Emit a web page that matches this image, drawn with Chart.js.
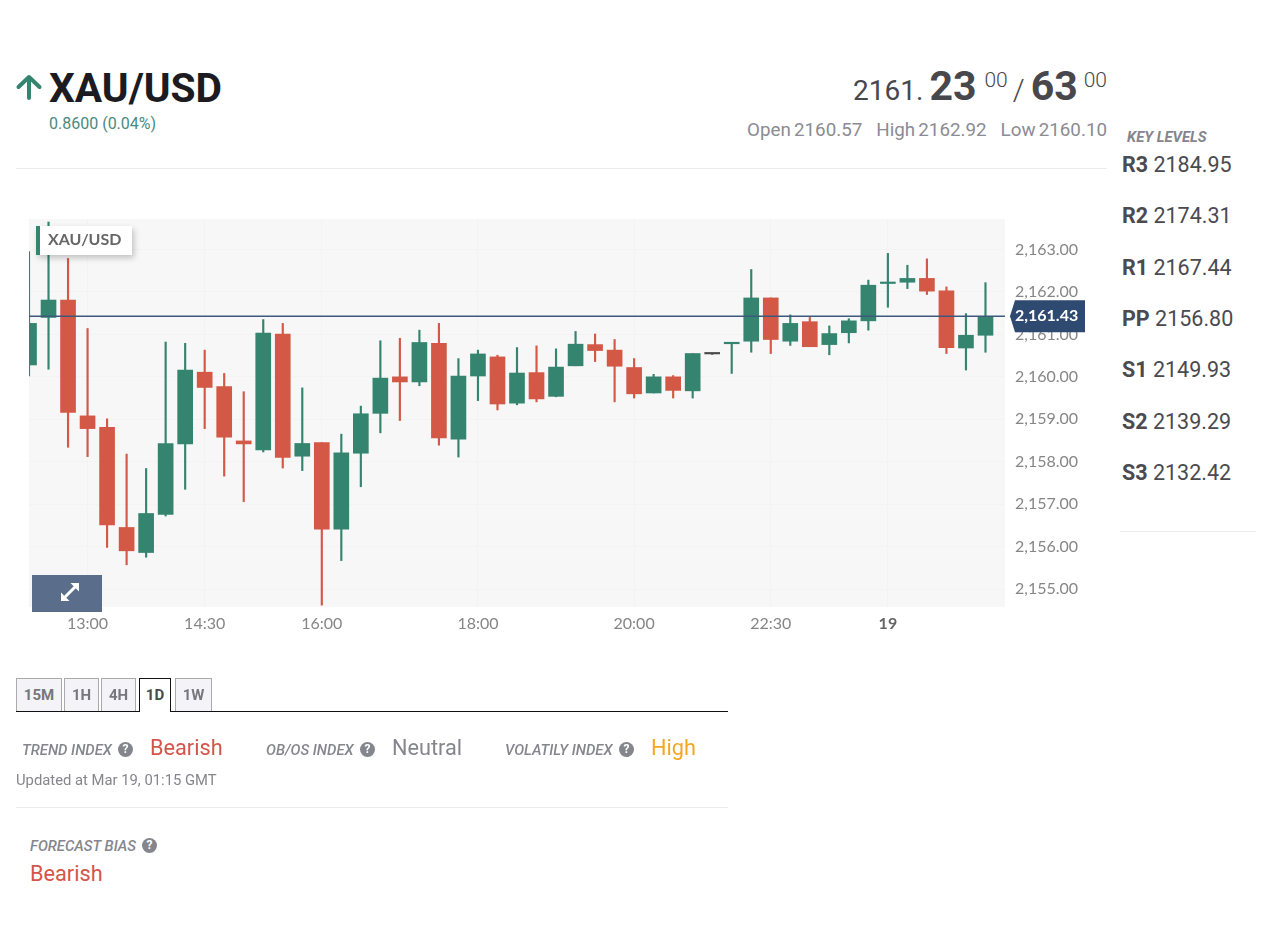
<!DOCTYPE html>
<html>
<head>
<meta charset="utf-8">
<title>XAU/USD</title>
<script src="https://cdn.jsdelivr.net/npm/chart.js@4"></script>
<style>
html, body { margin: 0; padding: 0; background: #fff; }
body { width: 1264px; height: 931px; position: relative; overflow: hidden; font-family: Roboto, sans-serif; }
.t { position: absolute; white-space: nowrap; line-height: 1; }
.hr { position: absolute; height: 1px; background: #ececec; }
.idx { font-style: italic; font-weight: 500; font-size: 14.8px; color: #85858d; }
.big { font-size: 21.7px; }
.lvl { font-size: 21.5px; color: #4a4a4f; left: 1122px; }
.lvl b { font-weight: 700; }
.help { position: absolute; width: 15px; height: 15px; border-radius: 50%; background: #85858d; color: #fff; font: bold 12px/15px Roboto, sans-serif; text-align: center; }
.tab { position: absolute; top: 678px; height: 32px; box-sizing: content-box; border: 1px solid #aaa; border-bottom: 0; background: #f3f3f8; color: #77777d; font: bold 15px/33px Roboto, sans-serif; text-align: center; }
.tab.on { background: #fff; border: 1.5px solid #111; border-bottom: 0; color: #4a4a4f; height: 33px; z-index: 2; }
#wrap { position: absolute; left: 29px; top: 207px; width: 1071px; height: 432px; }
#legend { position: absolute; left: 36px; top: 226px; width: 92px; height: 29px; background: #fff; border-left: 4px solid #34846f; box-shadow: 2px 3px 6px rgba(0,0,0,.22); font: bold 16px/26px Lato, sans-serif; color: #666; text-indent: 8px; }
#expand { position: absolute; left: 32px; top: 575px; width: 70px; height: 37px; background: #5a6e8c; }
</style>
</head>
<body>

<svg style="position:absolute;left:14px;top:72px" width="30" height="30" viewBox="0 0 30 30"><path d="M15 26V5M4.500 15 15 5l10.500 10" fill="none" stroke="#34846f" stroke-width="4" stroke-linecap="round" stroke-linejoin="round"/></svg>
<div class="t" style="left:49px;top:68px;font-size:40.7px;font-weight:700;color:#1b1b21">XAU/USD</div>
<div class="t" style="left:49px;top:116px;font-size:16px;color:#4a8a80">0.8600 (0.04%)</div>

<div class="t" style="right:157px;top:63px;color:#47474c;font-size:28px;display:flex;align-items:baseline;height:46px">
  <span style="line-height:46px">2161.</span><b style="font-size:41px;margin-left:6px;line-height:46px">23</b><span style="font-size:21px;margin-left:8px;position:relative;top:-13px;font-weight:300">00</span><span style="font-size:30px;margin:0 6px 0 5px;font-weight:300">/</span><b style="font-size:41px;line-height:46px">63</b><span style="font-size:21px;margin-left:6px;position:relative;top:-13px;font-weight:300">00</span>
</div>
<div class="t" style="right:157px;top:121px;font-size:18.8px;color:#8b8b93;word-spacing:-1.5px">Open 2160.57<span style="margin-left:14px">High 2162.92</span><span style="margin-left:14px">Low 2160.10</span></div>
<div class="hr" style="left:16px;top:168px;width:1091px"></div>

<div class="t idx" style="left:1127px;top:130px;font-weight:700">KEY LEVELS</div>
<div class="t lvl" style="top:154px"><b>R3</b> 2184.95</div>
<div class="t lvl" style="top:205px"><b>R2</b> 2174.31</div>
<div class="t lvl" style="top:257px"><b>R1</b> 2167.44</div>
<div class="t lvl" style="top:308px"><b>PP</b> 2156.80</div>
<div class="t lvl" style="top:359px"><b>S1</b> 2149.93</div>
<div class="t lvl" style="top:411px"><b>S2</b> 2139.29</div>
<div class="t lvl" style="top:462px"><b>S3</b> 2132.42</div>
<div class="hr" style="left:1120px;top:531px;width:136px"></div>

<div id="wrap"><canvas id="xauChart" width="1071" height="432"></canvas></div>
<div id="legend">XAU/USD</div>
<div id="expand">
  <svg style="position:absolute;left:28px;top:7px" width="20" height="20" viewBox="0 0 20 20"><path d="M5 15 15 5" stroke="#fff" stroke-width="3"/><path d="M10.500 1H19V9.500ZM1 10.500V19H9.500Z" fill="#fff"/></svg>
</div>

<div class="tab" style="left:16px;width:44px">15M</div>
<div class="tab" style="left:64px;width:33px">1H</div>
<div class="tab" style="left:101px;width:33px">4H</div>
<div class="tab on" style="left:139px;width:30px">1D</div>
<div class="tab" style="left:175px;width:35px">1W</div>
<div style="position:absolute;left:16px;top:711px;width:712px;height:1px;background:#111"></div>

<div class="t idx" style="left:22px;top:743px">TREND INDEX</div>
<div class="help" style="left:118px;top:742px">?</div>
<div class="t big" style="left:150px;top:737px;color:#d5544a">Bearish</div>
<div class="t idx" style="left:266px;top:743px">OB/OS INDEX</div>
<div class="help" style="left:360px;top:742px">?</div>
<div class="t big" style="left:392px;top:737px;color:#85858d">Neutral</div>
<div class="t idx" style="left:505px;top:743px">VOLATILY INDEX</div>
<div class="help" style="left:619px;top:742px">?</div>
<div class="t big" style="left:651px;top:737px;color:#f5a623">High</div>
<div class="t" style="left:16px;top:773px;font-size:14.8px;color:#85858d">Updated at Mar 19, 01:15 GMT</div>
<div class="hr" style="left:16px;top:807px;width:712px"></div>

<div class="t idx" style="left:30px;top:839px">FORECAST BIAS</div>
<div class="help" style="left:142px;top:838px">?</div>
<div class="t big" style="left:30px;top:863px;color:#d5544a">Bearish</div>

<script>
// 15 minute candles
const categories = ['12:15','12:30','12:45','13:00','13:15','13:30','13:45','14:00','14:15','14:30',
  '14:45','15:00','15:15','15:30','15:45','16:00','16:15','16:30','16:45','17:00',
  '17:15','17:30','17:45','18:00','18:15','18:30','18:45','19:00','19:15','19:30',
  '19:45','20:00','20:15','20:30','20:45','21:00','22:00','22:15','22:30','22:45',
  '23:00','23:15','23:30','23:45','19','00:15','00:30','00:45','01:00','01:15',''];

const opens = [2160.28,2161.40,2161.81,2159.08,2158.81,2156.45,2155.86,2156.76,2158.42,2160.11,
  2159.77,2158.49,2158.28,2161.01,2158.13,2158.45,2156.41,2158.20,2159.14,2160.00,
  2159.88,2160.79,2158.53,2160.02,2160.47,2159.38,2160.10,2159.54,2160.26,2160.76,
  2160.63,2160.22,2159.62,2160.00,2159.67,2160.54,2160.78,2160.84,2161.86,2160.84,
  2161.30,2160.76,2161.04,2161.32,2162.20,2162.23,2162.32,2162.03,2160.68,2160.98];
const highs = [2162.95,2163.65,2162.79,2161.14,2159.01,2158.18,2157.84,2160.82,2160.79,2160.63,
  2160.08,2159.65,2161.35,2161.26,2159.74,2158.45,2158.65,2159.31,2160.85,2160.91,
  2161.10,2161.26,2160.43,2160.63,2160.51,2160.69,2160.73,2160.66,2161.07,2161.01,
  2160.88,2160.43,2160.06,2160.03,2160.55,2160.55,2160.80,2162.53,2161.86,2161.46,
  2161.40,2161.20,2161.37,2162.28,2162.91,2162.63,2162.78,2162.12,2161.49,2162.22];
const lows = [2160.02,2160.18,2158.34,2158.12,2155.98,2155.57,2155.75,2156.72,2157.35,2158.78,
  2157.66,2157.06,2158.23,2157.85,2157.79,2154.62,2155.67,2157.41,2158.68,2158.97,
  2159.79,2158.39,2158.11,2159.44,2159.22,2159.34,2159.41,2159.53,2160.26,2160.36,
  2159.41,2159.50,2159.62,2159.50,2159.50,2160.53,2160.08,2160.58,2160.55,2160.74,
  2160.71,2160.52,2160.80,2161.10,2161.64,2162.08,2161.94,2160.55,2160.16,2160.58];
const closes = [2161.26,2161.81,2159.16,2158.78,2156.51,2155.90,2156.78,2158.43,2160.16,2159.75,
  2158.58,2158.42,2161.03,2158.10,2158.43,2156.41,2158.21,2159.13,2159.97,2159.88,
  2160.81,2158.56,2160.02,2160.54,2159.36,2160.09,2159.48,2160.23,2160.77,2160.62,
  2160.25,2159.60,2160.00,2159.68,2160.55,2160.54,2160.80,2161.86,2160.88,2161.26,
  2160.71,2161.02,2161.32,2162.16,2162.23,2162.32,2162.02,2160.69,2160.98,2161.41];

const lastPrice = 2161.43;
const timeTicks = ['13:00','14:30','16:00','18:00','20:00','22:30','19'];

const upColor = '#34846f';
const downColor = '#d35845';
const flatColor = '#4a4a4a';
const lineColor = '#3f587e';
const tagColor = '#2f4a70';
const tickColor = '#868686';

function fmt(v) {
  return v.toLocaleString('en-US', { minimumFractionDigits: 2, maximumFractionDigits: 2 });
}

const candleColors = closes.map((c, i) => c > opens[i] ? upColor : c < opens[i] ? downColor : flatColor);

// grey plot background and the price tag on the right
const chartExtras = {
  id: 'chartExtras',
  beforeDraw(chart) {
    const a = chart.chartArea;
    chart.ctx.save();
    chart.ctx.fillStyle = '#f7f7f7';
    chart.ctx.fillRect(a.left, a.top, a.right - a.left, a.bottom - a.top);
    chart.ctx.restore();
  },
  afterDraw(chart) {
    const ctx = chart.ctx;
    const a = chart.chartArea;
    const y = chart.scales.y.getPixelForValue(lastPrice);
    ctx.save();
    ctx.fillStyle = tagColor;
    ctx.beginPath();
    ctx.moveTo(a.right + 5, y);
    ctx.lineTo(a.right + 10, y - 16);
    ctx.lineTo(a.right + 80, y - 16);
    ctx.lineTo(a.right + 80, y + 16);
    ctx.lineTo(a.right + 10, y + 16);
    ctx.closePath();
    ctx.fill();
    ctx.fillStyle = '#fff';
    ctx.font = 'bold 16px Lato, sans-serif';
    ctx.textBaseline = 'middle';
    ctx.fillText(fmt(lastPrice), a.right + 10, y);
    ctx.restore();
  }
};

new Chart(document.getElementById('xauChart'), {
  type: 'bar',
  data: {
    labels: categories,
    datasets: [
      {
        type: 'line',
        data: categories.map(() => lastPrice),
        borderColor: lineColor,
        borderWidth: 1.5,
        pointRadius: 0,
        order: 1
      },
      {
        data: opens.map((o, i) => [o, closes[i]]),
        backgroundColor: candleColors,
        barThickness: 15,
        minBarLength: 1.5,
        grouped: false,
        order: 2
      },
      {
        data: lows.map((l, i) => [l, highs[i]]),
        backgroundColor: candleColors,
        barThickness: 1.5,
        grouped: false,
        order: 3
      }
    ]
  },
  options: {
    responsive: false,
    animation: false,
    layout: { padding: { top: 12 } },
    plugins: { legend: { display: false }, tooltip: { enabled: false } },
    scales: {
      x: {
        offset: false,
        border: { display: false },
        grid: { offset: false, color: '#f3f3f3', drawTicks: false },
        afterBuildTicks(scale) {
          scale.ticks = scale.ticks.filter(t => timeTicks.includes(categories[t.value]));
        },
        afterFit(scale) { scale.height = 32; },
        ticks: {
          autoSkip: false,
          maxRotation: 0,
          padding: 7,
          color: ctx => ctx.tick.label === '19' ? '#666' : tickColor,
          font: ctx => ({ family: 'Lato, sans-serif', size: 16, weight: ctx.tick.label === '19' ? 'bold' : 'normal' }),
          callback: v => categories[v]
        }
      },
      y: {
        position: 'right',
        min: 2154.576,
        max: 2163.72,
        border: { display: false },
        grid: { color: '#f3f3f3', drawTicks: false },
        afterFit(scale) {
          scale.width = 95;
          scale.paddingTop = 0;
          scale.paddingBottom = 0;
        },
        ticks: {
          stepSize: 1,
          includeBounds: false,
          padding: 10,
          color: tickColor,
          font: { family: 'Lato, sans-serif', size: 16 },
          callback: v => fmt(v)
        }
      }
    }
  },
  plugins: [chartExtras]
});
</script>
</body>
</html>
